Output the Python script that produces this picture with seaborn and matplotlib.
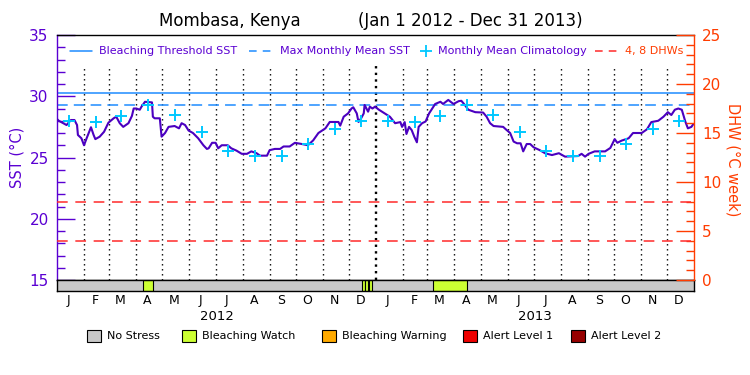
import numpy as np
import pandas as pd
import matplotlib
matplotlib.use("Agg")
import matplotlib.pyplot as plt
import seaborn as sns
from matplotlib.lines import Line2D
from matplotlib.patches import Rectangle
from matplotlib.ticker import MultipleLocator
import matplotlib.transforms as mtransforms

sns.set_style("white")
plt.rcParams['font.family'] = ['DejaVu Sans']

# ---------------- data ----------------
# days since 2012-01-01 and SST (deg C)
sst_day = [0, 2, 11, 16, 20, 23, 24, 28, 31, 34, 39, 42, 44, 49, 54, 59, 65, 68, 72, 76,
           82, 86, 88, 91, 95, 97, 101, 109, 110, 112, 118, 120, 124, 128, 135, 140, 143, 147,
           151, 156, 162, 168, 172, 174, 178, 182, 185, 189, 196, 200, 206, 212, 218, 223,
           229, 233, 241, 244, 250, 256, 260, 267, 273, 281, 288, 294, 300, 308, 313, 323,
           325, 329, 334, 338, 340, 344, 346, 349, 352, 353, 357, 359, 362, 365, 369, 373,
           382, 388, 394, 396, 399, 401, 404, 407, 410, 413, 415, 419, 423, 427, 434, 440,
           443, 449, 455, 461, 464, 468, 472, 480, 489, 493, 497, 501, 512, 516, 520, 524,
           528, 532, 535, 539, 543, 547, 552, 554, 560, 568, 576, 583, 598, 602, 606, 610,
           617, 629, 635, 640, 643, 648, 656, 661, 671, 677, 682, 690, 696, 701, 705, 709,
           713, 717, 721, 724, 728, 730]
sst_val = [28.14, 28.0, 27.65, 28.06, 28.06, 27.65, 26.84, 26.57, 26.0, 26.57, 27.47, 26.84,
           26.5, 26.7, 27.1, 27.84, 28.2, 28.33, 27.8, 27.5, 27.8, 28.4, 29.0, 29.0, 28.9,
           29.15, 29.55, 29.5, 28.33, 28.2, 28.2, 26.7, 27.0, 27.5, 27.57, 27.38, 27.8, 27.65,
           27.2, 27.0, 26.57, 26.0, 25.7, 25.75, 26.2, 26.2, 25.75, 26.0, 26.0, 25.75, 25.56,
           25.3, 25.3, 25.5, 25.35, 25.15, 25.15, 25.6, 25.7, 25.7, 25.9, 25.9, 26.2, 26.1,
           26.0, 26.4, 27.0, 27.38, 27.9, 27.9, 27.6, 28.33, 28.6, 29.0, 29.1, 28.6, 27.9,
           28.2, 28.6, 29.29, 28.74, 29.15, 29.0, 29.15, 28.92, 28.74, 28.33, 27.8, 27.89,
           27.5, 27.89, 26.92, 27.5, 27.24, 26.7, 26.24, 27.5, 27.8, 27.94, 28.6, 29.37,
           29.55, 29.37, 29.7, 29.37, 29.6, 29.63, 29.29, 28.9, 28.7, 28.67, 28.33, 27.8,
           27.57, 27.5, 27.24, 27.0, 26.3, 26.16, 26.16, 25.5, 26.1, 26.1, 25.83, 25.67, 25.6,
           25.35, 25.2, 25.35, 25.07, 25.12, 25.3, 25.07, 25.3, 25.5, 25.5, 25.78, 26.5, 26.2,
           26.38, 26.57, 27.0, 27.0, 27.3, 27.89, 28.0, 28.33, 28.7, 28.47, 28.9, 29.0, 28.9,
           27.94, 27.38, 27.5, 27.7]

clim_val = [28.0, 27.87, 28.4, 29.3, 28.45, 27.05, 25.56, 25.1, 25.15, 26.07, 27.3, 28.0]
mmm = 29.3
threshold = 30.3
dhw_levels = [4, 8]

stress_start = [99, 350, 354, 358, 431]
stress_end = [110, 353, 357, 361, 471]
stress_level = ["Bleaching Watch"] * 5

month_letters = list("JFMAMJJASOND")
years = [2012, 2013]

stress_names = ["No Stress", "Bleaching Watch", "Bleaching Warning", "Alert Level 1", "Alert Level 2"]
stress_colors = ["#c8c8c8", "#ccff33", "#ffaa00", "#ee0000", "#960000"]

# ---------------- derived positions ----------------
origin = pd.Timestamp("2012-01-01")
month_starts = [(d - origin).days for d in pd.date_range("2012-01-01", "2013-12-01", freq="MS")]
total_days = (pd.Timestamp("2014-01-01") - origin).days
clim_x = [m + 14 for m in month_starts]
clim_y = clim_val * len(years)
year_mid = [((pd.Timestamp(f"{y}-01-01") - origin).days + (pd.Timestamp(f"{y+1}-01-01") - origin).days) / 2 for y in years]

PURPLE = "#5a00d2"
LINE = "#4b00c0"
BLUE = "#1e8cff"
CYAN = "#00c8ff"
RED = "#ff2a2a"
ORANGE = "#ff3c00"

W, H = 750, 375
fig = plt.figure(figsize=(7.5, 3.75), dpi=100)
fig.patch.set_facecolor("white")

def fx(px):
    return px / W

def fy(py):
    return 1 - py / H

ax = fig.add_axes([fx(57), fy(280), fx(694) - fx(57), fy(35) - fy(280)])
axb = fig.add_axes([fx(57), fy(291), fx(694) - fx(57), fy(280) - fy(291)])

ax.set_xlim(0, total_days)
ax.set_ylim(15, 35)

# month dotted lines
for ms in month_starts[1:]:
    bold = (ms == 366)
    ax.axvline(ms, ymin=0, ymax=0.878, color="black",
               lw=1.7 if bold else 1.0, ls=(0, (1, 1.8)) if bold else (0, (1, 2.6)), zorder=1)

ax.axhline(threshold, color=BLUE, lw=1.1, zorder=2)
ax.axhline(mmm, color=BLUE, lw=1.1, ls=(0, (7, 4)), zorder=2)

ax2 = ax.twinx()
ax2.set_ylim(0, 25)
for d in dhw_levels:
    ax2.axhline(d, color=RED, lw=1.1, ls=(0, (7, 5)), zorder=2)

sns.lineplot(x=sst_day, y=sst_val, ax=ax, color=LINE, lw=1.5, estimator=None, sort=True, zorder=4)
sns.scatterplot(x=clim_x, y=clim_y, ax=ax, marker="+", s=75, linewidth=1.4, color=CYAN, zorder=5)

ax.set_xticks([])
ax.set_xlabel("")
ax.set_ylabel("")
ax2.set_ylabel("")
ax.yaxis.set_major_locator(MultipleLocator(5))
ax.yaxis.set_minor_locator(MultipleLocator(1))
ax.tick_params(axis="y", which="major", left=True, direction="in", length=13, width=1,
               color=PURPLE, labelcolor=PURPLE, labelsize=11, pad=6)
ax.tick_params(axis="y", which="minor", left=True, direction="in", length=6, width=1, color=PURPLE)
ax2.yaxis.set_major_locator(MultipleLocator(5))
ax2.yaxis.set_minor_locator(MultipleLocator(1))
ax2.tick_params(axis="y", which="major", right=True, direction="in", length=13, width=1,
                color=ORANGE, labelcolor=ORANGE, labelsize=11, pad=6)
ax2.tick_params(axis="y", which="minor", right=True, direction="in", length=6, width=1, color=ORANGE)

for a in (ax, ax2):
    for s in a.spines.values():
        s.set_linewidth(1.0)
ax.spines["left"].set_color(PURPLE)
ax.spines["top"].set_color("black")
ax.spines["bottom"].set_color("black")
ax.spines["right"].set_visible(False)
ax2.spines["left"].set_visible(False)
ax2.spines["top"].set_visible(False)
ax2.spines["bottom"].set_visible(False)
ax2.spines["right"].set_color(ORANGE)

# stress bar
axb.set_xlim(0, total_days)
axb.set_ylim(0, 1)
axb.axvspan(0, total_days, color=stress_colors[0], zorder=0)
for s0, s1, lv in zip(stress_start, stress_end, stress_level):
    axb.barh(0.5, s1 - s0, left=s0, height=1, color=stress_colors[stress_names.index(lv)],
             edgecolor="black", linewidth=0.8, zorder=2)
axb.set_yticks([])
month_mid = [m + 13 for m in month_starts]
axb.set_xticks(month_mid)
axb.set_xticklabels(month_letters * len(years))
axb.tick_params(axis="x", length=0, pad=2.5, labelsize=9, labelcolor="black", bottom=True)
for s in axb.spines.values():
    s.set_color("black")
    s.set_linewidth(1.0)
trans = mtransforms.blended_transform_factory(axb.transData, fig.transFigure)
for ym, y in zip(year_mid, years):
    axb.text(ym, fy(316), str(y), transform=trans, ha="center", va="center", fontsize=9.5, color="black")

# axis labels
fig.text(fx(17), fy(157), "SST (°C)", rotation=90, ha="center", va="center", fontsize=10.5, color=PURPLE)
fig.text(fx(733), fy(160), "DHW (°C week)", rotation=-90, ha="center", va="center", fontsize=10.5, color=ORANGE)

# title
fig.text(fx(230), fy(21), "Mombasa, Kenya", ha="center", va="center", fontsize=12, color="black")
fig.text(fx(470), fy(21), "(Jan 1 2012 - Dec 31 2013)", ha="center", va="center", fontsize=12, color="black")

# in-plot legend
ly = fy(51)
fig.add_artist(Line2D([fx(70), fx(92)], [ly, ly], color=BLUE, lw=1.1, transform=fig.transFigure))
fig.text(fx(99), ly, "Bleaching Threshold SST", ha="left", va="center", fontsize=8, color=PURPLE)
fig.add_artist(Line2D([fx(249), fx(273)], [ly, ly], color=BLUE, lw=1.1, ls=(0, (5, 4)), transform=fig.transFigure))
fig.text(fx(280), ly, "Max Monthly Mean SST", ha="left", va="center", fontsize=8, color=PURPLE)
fig.add_artist(Line2D([fx(426)], [ly], color=CYAN, marker="+", ms=8, mew=1.3, ls="none", transform=fig.transFigure))
fig.text(fx(438), ly, "Monthly Mean Climatology", ha="left", va="center", fontsize=8, color=PURPLE)
fig.add_artist(Line2D([fx(595), fx(618)], [ly, ly], color=RED, lw=1.1, ls=(0, (5, 4)), transform=fig.transFigure))
fig.text(fx(625), ly, "4, 8 DHWs", ha="left", va="center", fontsize=8, color=ORANGE)

# bottom stress legend
sq_x = [87, 182, 322, 463, 571]
by = 336
for x0, name, col in zip(sq_x, stress_names, stress_colors):
    fig.add_artist(Rectangle((fx(x0), fy(by + 6)), fx(14), 12 / H, facecolor=col, edgecolor="black",
                             lw=0.8, transform=fig.transFigure))
    fig.text(fx(x0 + 20), fy(by), name, ha="left", va="center", fontsize=8, color="black")

fig.savefig("out.png", dpi=100)
